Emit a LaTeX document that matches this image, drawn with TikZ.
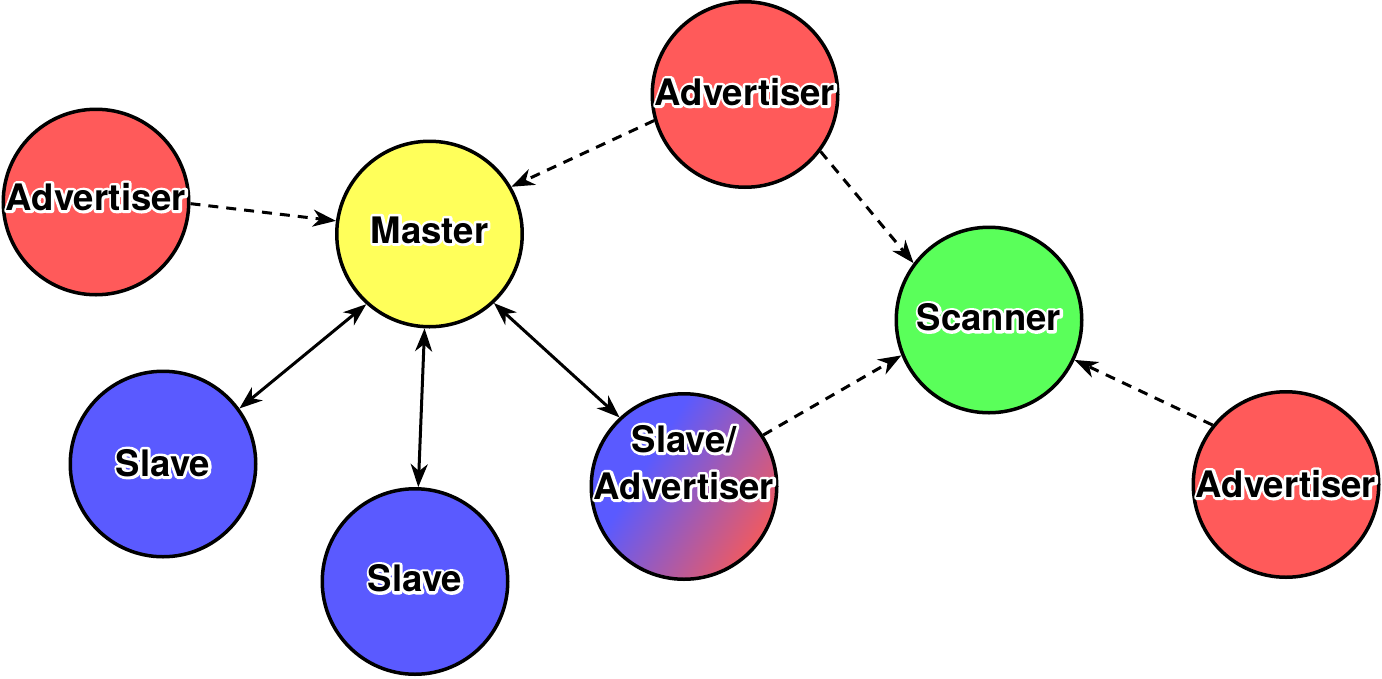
\documentclass[tikz,border=0pt]{standalone}
\usepackage{fontspec}
\setmainfont{TeX Gyre Heros}
\usetikzlibrary{arrows.meta}

\definecolor{advred}{RGB}{255,90,90}
\definecolor{mastyellow}{RGB}{255,255,90}
\definecolor{scangreen}{RGB}{90,255,90}
\definecolor{slaveblue}{RGB}{90,90,255}
\definecolor{mixred}{RGB}{236,90,100}

% blue-to-red blend for the dual-role node
\pgfdeclarehorizontalshading{slaveadv}{100bp}{%
  color(0bp)=(slaveblue); color(38bp)=(slaveblue);
  color(74bp)=(mixred); color(100bp)=(mixred)}

% white outline behind the lettering: a stroked copy, then the filled text
\newcommand{\halo}[1]{\leavevmode
  \rlap{\special{pdf:literal direct q 1 Tr 5.5 w 1 1 1 RG 1 j 1 J}#1\special{pdf:literal direct Q}}#1}

\tikzset{
  peer/.style={circle, draw=black, line width=3.5pt, minimum size=185.5pt, inner sep=0pt},
  advertiser/.style={peer, fill=advred},
  masternode/.style={peer, fill=mastyellow},
  scannernode/.style={peer, fill=scangreen},
  slavenode/.style={peer, fill=slaveblue},
  mixnode/.style={peer, shading=slaveadv, shading angle=-32},
  lbl/.style={font=\fontsize{36.5}{47}\selectfont\bfseries, align=center, inner sep=0pt, text=black},
  link/.style={line width=3pt,
    {Stealth[length=23pt,width=17pt,inset=7pt]}-{Stealth[length=23pt,width=17pt,inset=7pt]}},
  adv/.style={line width=3pt, dash pattern=on 10pt off 8pt,
    -{Stealth[length=23pt,width=17pt,inset=7pt]}}
}

\begin{document}
\begin{tikzpicture}[x=1pt, y=-1pt]
\useasboundingbox (0,0) rectangle (1382,678);

% devices
\node[advertiser]  (advL)    at (96,202)    {};
\node[masternode]  (master)  at (429.5,234) {};
\node[advertiser]  (advT)    at (745,94.5)  {};
\node[scannernode] (scanner) at (989,320)   {};
\node[slavenode]   (slaveL)  at (163,464)   {};
\node[slavenode]   (slaveB)  at (415,581.5) {};
\node[mixnode]     (sa)      at (684,486.5) {};
\node[advertiser]  (advR)    at (1286,484.5){};

% labels
\node[lbl] (advLt)    at ([yshift=5pt]advL.center)    {\halo{Advertiser}};
\node[lbl] (mastert)  at ([yshift=4pt]master.center)  {\halo{Master}};
\node[lbl] (advTt)    at ([yshift=2.5pt]advT.center)  {\halo{Advertiser}};
\node[lbl] (scannert) at ([yshift=2.5pt]scanner.center) {\halo{Scanner}};
\node[lbl] (slaveLt)  at ([yshift=1pt]slaveL.center)  {\halo{Slave}};
\node[lbl] (slaveBt)  at ([yshift=3pt]slaveB.center)  {\halo{Slave}};
\node[lbl] (sat)      at ([yshift=24pt]sa.center)     {\halo{Slave/}\\\halo{Advertiser}};
\node[lbl] (advRt)    at ([yshift=0.5pt]advR.center)  {\halo{Advertiser}};

% advertising
\draw[adv] (advL.-1)    -- (master.172);
\draw[adv] (advT.-164)  -- (master.30);
\draw[adv] (advT.-37)   -- (scanner.143);
\draw[adv] (sa.33)      -- (scanner.-158);
\draw[adv] (advR.141)   -- (scanner.-25);

% connections
\draw[link] (master.-132) -- (slaveL.36);
\draw[link] (master.-93)  -- (slaveB.88);
\draw[link] (master.-47)  -- (sa.133);
\end{tikzpicture}
\end{document}
